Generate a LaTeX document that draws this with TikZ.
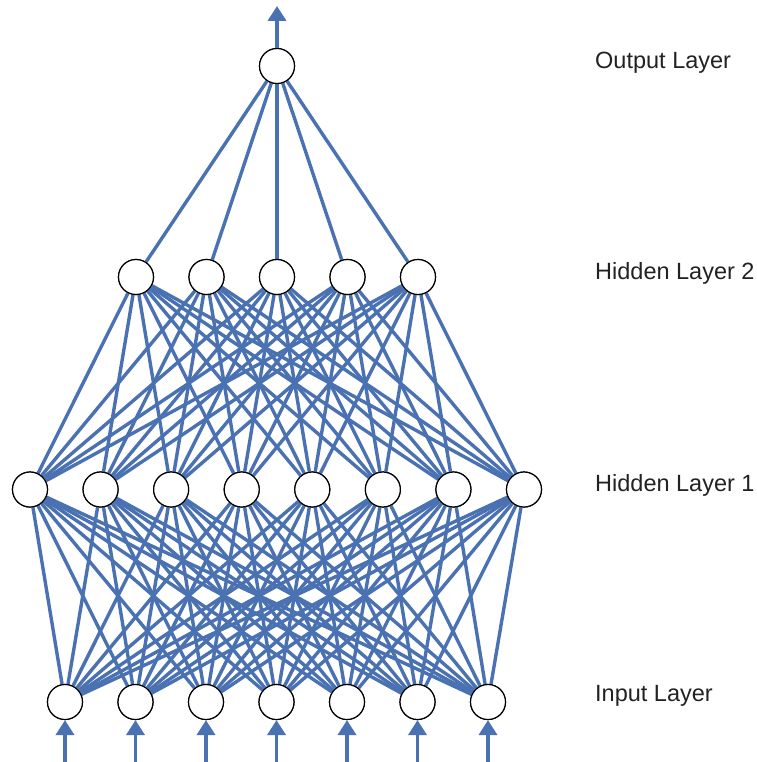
\documentclass[tikz,border=0pt]{standalone}
\usepackage{fontspec}
\setmainfont{Liberation Sans}
\usetikzlibrary{arrows.meta}
\definecolor{edgeblue}{RGB}{74,114,178}
\definecolor{labelgray}{RGB}{34,34,34}
\begin{document}
\begin{tikzpicture}[x=1pt,y=-1pt,
  neuron/.style={circle,draw=black,line width=1.2pt,fill=white,minimum size=35pt,inner sep=0pt},
  conn/.style={draw=edgeblue,line width=3.4pt},
  flow/.style={draw=edgeblue,line width=3.8pt,-{Triangle[length=15pt,width=18pt]}},
  layerlabel/.style={anchor=base west,font=\fontsize{23.5}{28}\selectfont,text=labelgray,inner sep=0pt}]
\useasboundingbox (0,0) rectangle (756,762);
% nodes
\foreach \i in {1,...,7} \node[neuron] (in\i) at ({65+70.5*(\i-1)},702) {};
\foreach \i in {1,...,8} \node[neuron] (ha\i) at ({30+70.57*(\i-1)},489.5) {};
\foreach \i in {1,...,5} \node[neuron] (hb\i) at ({136+70.5*(\i-1)},277) {};
\node[neuron] (out) at (277,66) {};
% edges
\foreach \i in {1,...,7} \foreach \j in {1,...,8} \draw[conn] (in\i) -- (ha\j);
\foreach \i in {1,...,8} \foreach \j in {1,...,5} \draw[conn] (ha\i) -- (hb\j);
\foreach \j in {1,...,5} \draw[conn] (hb\j) -- (out);
% redraw nodes on top
\foreach \i in {1,...,7} \node[neuron] at (in\i) {};
\foreach \i in {1,...,8} \node[neuron] at (ha\i) {};
\foreach \i in {1,...,5} \node[neuron] at (hb\i) {};
\node[neuron] at (out) {};
% input arrows
\foreach \i in {1,...,7} {
  \coordinate (src\i) at ({65+70.5*(\i-1)},762);
  \draw[flow] (src\i) -- (in\i);
}
\coordinate (top) at (277,6);
\draw[flow] (out) -- (top);
% labels
\node[layerlabel] (lo) at (595,69) {Output Layer};
\node[layerlabel] (lh2) at (595,279.5) {Hidden Layer 2};
\node[layerlabel] (lh1) at (595,491.5) {Hidden Layer 1};
\node[layerlabel] (li) at (595,701.5) {Input Layer};
\end{tikzpicture}
\end{document}
